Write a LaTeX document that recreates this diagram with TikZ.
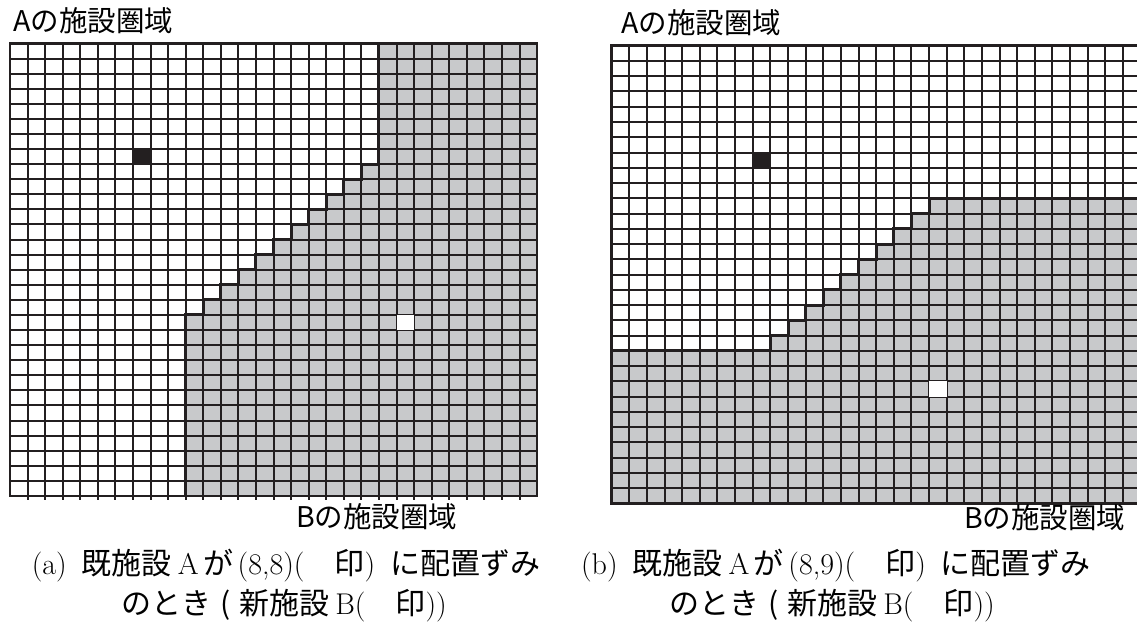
\documentclass[tikz,border=0pt]{standalone}
\usepackage{fontspec}
\newfontfamily\jp{Noto Sans CJK JP}
\definecolor{ink}{RGB}{35,31,32}
\definecolor{shade}{RGB}{200,201,203}
\begin{document}
\begin{tikzpicture}[x=1pt,y=-1pt,
  gridline/.style={draw=ink,line width=2pt},
  stairline/.style={draw=ink,line width=3pt,line join=miter},
  regionfill/.style={fill=shade},
  markA/.style={fill=ink},
  markB/.style={fill=white},
  lbl/.style={inner sep=0pt,anchor=base west,font=\jp\fontsize{28.5}{32}\selectfont},
  captext/.style={inner sep=0pt,anchor=base,font=\fontsize{30}{36}\selectfont}]
\useasboundingbox (0,0) rectangle (1137,626);
\clip (0,0) rectangle (1137,626);
\fill[white] (0,0) rectangle (1137,626);

% ---------- left grid (a)
\begin{scope}[xshift=10pt,yshift=-43.5pt,x=17.57pt,y=-15.08pt]
  \path[regionfill] (10,30) -- (10,18) -- (11,18) -- (11,17) -- (12,17) -- (12,16) -- (13,16) -- (13,15)
     -- (14,15) -- (14,14) -- (15,14) -- (15,13) -- (16,13) -- (16,12) -- (17,12) -- (17,11)
     -- (18,11) -- (18,10) -- (19,10) -- (19,9) -- (20,9) -- (20,8) -- (21,8) -- (21,0)
     -- (30,0) -- (30,30) -- cycle;
  \foreach \i in {1,...,29} \draw[gridline] (\i,0) -- (\i,30.25);
  \foreach \j in {1,...,29} \draw[gridline] (0,\j) -- (30,\j);
  \path[markA] (7,7) rectangle (8,8);
  \path[markB] (22,18) rectangle (23,19);
  \draw[stairline] (10,30) -- (10,18) -- (11,18) -- (11,17) -- (12,17) -- (12,16) -- (13,16) -- (13,15)
     -- (14,15) -- (14,14) -- (15,14) -- (15,13) -- (16,13) -- (16,12) -- (17,12) -- (17,11)
     -- (18,11) -- (18,10) -- (19,10) -- (19,9) -- (20,9) -- (20,8) -- (21,8) -- (21,0);
  \draw[stairline,line width=2.6pt] (0,0) rectangle (30,30);
\end{scope}

% ---------- right grid (b)
\begin{scope}[xshift=611.7pt,yshift=-45.7pt,x=17.63pt,y=-15.26pt]
  \path[regionfill] (0,20) -- (9,20) -- (9,19) -- (10,19) -- (10,18) -- (11,18) -- (11,17) -- (12,17)
     -- (12,16) -- (13,16) -- (13,15) -- (14,15) -- (14,14) -- (15,14) -- (15,13) -- (16,13)
     -- (16,12) -- (17,12) -- (17,11) -- (18,11) -- (18,10) -- (30,10) -- (30,30) -- (0,30) -- cycle;
  \foreach \i in {1,...,29} \draw[gridline] (\i,0) -- (\i,30);
  \foreach \j in {1,...,29} \draw[gridline] (0,\j) -- (30,\j);
  \path[markA] (8,7) rectangle (9,8);
  \path[markB] (18,22) rectangle (19,23);
  \draw[stairline] (0,20) -- (9,20) -- (9,19) -- (10,19) -- (10,18) -- (11,18) -- (11,17) -- (12,17)
     -- (12,16) -- (13,16) -- (13,15) -- (14,15) -- (14,14) -- (15,14) -- (15,13) -- (16,13)
     -- (16,12) -- (17,12) -- (17,11) -- (18,11) -- (18,10) -- (30,10);
  \draw[stairline,line width=2.6pt] (0,0) rectangle (30,30);
\end{scope}

% ---------- labels
\node[lbl] (la) at (13,32) {Aの施設圏域};
\node[lbl] (lb) at (296,527) {Bの施設圏域};
\node[lbl] (ra) at (621,34) {Aの施設圏域};
\node[lbl] (rb) at (964,528) {Bの施設圏域};

% ---------- captions
\node[captext] (ca1) at (286,574) {(a)\hspace{0.5em}{\jp 既施設}\hspace{0.2em}A\hspace{0.15em}{\jp が}\hspace{0.15em}(8,8)(\hspace{1em}{\jp 印})\hspace{0.5em}{\jp に配置ずみ}};
\node[captext] (ca2) at (284,614) {{\jp のとき}\hspace{0.3em}{\jp (}\hspace{0.3em}{\jp 新施設}\hspace{0.2em}B(\hspace{1em}{\jp 印}))};
\node[captext] (cb1) at (836,574) {(b)\hspace{0.5em}{\jp 既施設}\hspace{0.2em}A\hspace{0.15em}{\jp が}\hspace{0.15em}(8,9)(\hspace{1em}{\jp 印})\hspace{0.5em}{\jp に配置ずみ}};
\node[captext] (cb2) at (832,614) {{\jp のとき}\hspace{0.3em}{\jp (}\hspace{0.3em}{\jp 新施設}\hspace{0.2em}B(\hspace{1em}{\jp 印}))};
\end{tikzpicture}
\end{document}
